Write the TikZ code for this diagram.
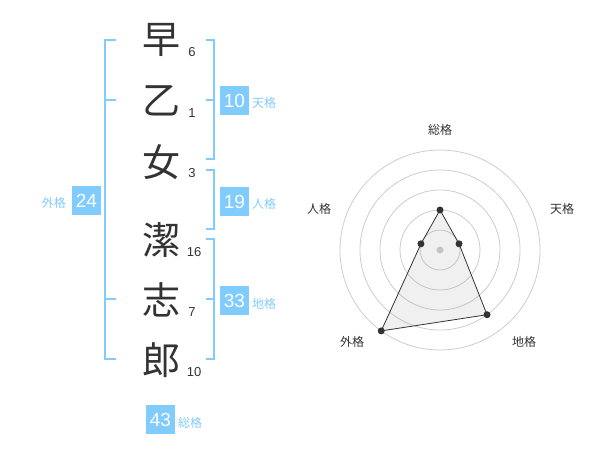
\documentclass[tikz,border=0pt]{standalone}
\usepackage{fontspec}
\setmainfont{Liberation Sans}
\newfontfamily\jpfont{Noto Sans CJK JP}
\definecolor{kakublue}{HTML}{80CCFF}
\definecolor{inkgray}{HTML}{333333}

\begin{document}
\begin{tikzpicture}[x=1pt, y=-1pt,
    kanji/.style={font=\jpfont\fontsize{38}{38}\selectfont, text=inkgray, inner sep=0pt},
    strokes/.style={font=\fontsize{13}{13}\selectfont, text=inkgray, inner sep=0pt},
    kakubox/.style={fill=kakublue, text=white, minimum size=29pt, inner sep=0pt, font=\fontsize{19}{19}\selectfont},
    kakutag/.style={text=kakublue, font=\jpfont\fontsize{12}{12}\selectfont, inner sep=0pt},
    bracket/.style={draw=kakublue, line width=2pt},
    axislabel/.style={text=inkgray, font=\jpfont\fontsize{12}{12}\selectfont, inner sep=0pt},
    ring/.style={draw=black!20, line width=0.8pt},
    dot/.style={circle, fill=inkgray, inner sep=0pt, minimum size=7pt}]

    \useasboundingbox (0,0) rectangle (600,470);

    % --- NAME: characters and stroke counts ---
    \node[kanji] (c1) at (161,40) {早};
    \node[kanji] (c2) at (161,101) {乙};
    \node[kanji] (c3) at (161,162) {女};
    \node[kanji] (c4) at (161,240) {潔};
    \node[kanji] (c5) at (161,300) {志};
    \node[kanji] (c6) at (161,360) {郎};

    \node[strokes] (s1) at (192,52) {6};
    \node[strokes] (s2) at (192,113) {1};
    \node[strokes] (s3) at (192,173) {3};
    \node[strokes] (s4) at (194,252) {16};
    \node[strokes] (s5) at (192,312) {7};
    \node[strokes] (s6) at (194,372) {10};

    % --- BRACKETS ---
    % outer (left)
    \draw[bracket] (116,40) -- (105,40) -- (105,359) -- (116,359);
    \draw[bracket] (105,100) -- (116,100);
    \draw[bracket] (105,299) -- (116,299);
    % heaven
    \draw[bracket] (206,40) -- (214,40) -- (214,159) -- (206,159);
    \draw[bracket] (214,100) -- (206,100);
    % person
    \draw[bracket] (206,170) -- (214,170) -- (214,229) -- (206,229);
    % earth
    \draw[bracket] (206,239) -- (214,239) -- (214,359) -- (206,359);
    \draw[bracket] (214,299) -- (206,299);

    % --- SCORE BOXES ---
    \node[kakubox] (ten) at (234.5,100.5) {10};
    \node[kakutag, anchor=west] at (252,103) {天格};
    \node[kakubox] (jin) at (234.5,201.5) {19};
    \node[kakutag, anchor=west] at (252,204) {人格};
    \node[kakubox] (chi) at (234.5,300.5) {33};
    \node[kakutag, anchor=west] at (252,304) {地格};
    \node[kakubox] (gai) at (86.5,200.5) {24};
    \node[kakutag, anchor=east] at (66,203) {外格};
    \node[kakubox] (sou) at (160.5,419.5) {43};
    \node[kakutag, anchor=west] at (178,423) {総格};

    % --- RADAR ---
    \begin{scope}[shift={(440,250)}, y=1pt]
        \foreach \r in {20,40,60,80,100}
            \draw[ring] (0,0) circle (\r);
        \fill[black!20] (0,0) circle (3.5);

        \coordinate (rsou) at (90:40);
        \coordinate (rten) at (18:20);
        \coordinate (rchi) at (-54:80);
        \coordinate (rgai) at (-126:100);
        \coordinate (rjin) at (162:20);

        \filldraw[fill=black!40, fill opacity=0.15, draw=inkgray, line width=0.8pt]
            (rsou) -- (rten) -- (rchi) -- (rgai) -- (rjin) -- cycle;
        \foreach \p in {rsou,rten,rchi,rgai,rjin}
            \node[dot] at (\p) {};

        \node[axislabel] (lsou) at (0,120) {総格};
        \node[axislabel] (lten) at (122,41) {天格};
        \node[axislabel] (ljin) at (-121,41) {人格};
        \node[axislabel] (lgai) at (-88,-92) {外格};
        \node[axislabel] (lchi) at (84,-92) {地格};
    \end{scope}

\end{tikzpicture}
\end{document}
